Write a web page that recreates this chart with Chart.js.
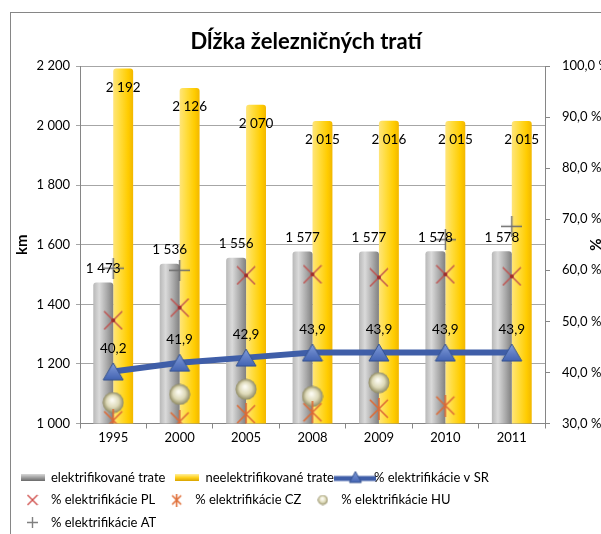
<!DOCTYPE html>
<html>
<head>
<meta charset="utf-8">
<script src="https://cdn.jsdelivr.net/npm/chart.js@4.4.1/dist/chart.umd.min.js"></script>
<style>
  html, body { margin: 0; padding: 0; background: #fff; overflow: hidden; }
  #frame {
    position: absolute; left: 10px; top: 12px; width: 700px; height: 600px;
    border-left: 1px solid #868686; border-top: 1px solid #868686;
  }
  #chart { position: absolute; left: 0; top: 0; }
</style>
</head>
<body>
<div id="frame"><canvas id="chart" width="590" height="526"></canvas></div>
<script>
/* data */
var categories     = ['1995', '2000', '2005', '2008', '2009', '2010', '2011'];
var electrified    = [1473, 1536, 1556, 1577, 1577, 1578, 1578];
var nonElectrified = [2192, 2126, 2070, 2015, 2016, 2015, 2015];
var srPct = [40.2, 41.9, 42.9, 43.9, 43.9, 43.9, 43.9];
var plPct = [50.2, 52.7, 59.0, 59.2, 58.6, 59.2, 58.8];
var czPct = [30.6, 30.4, 31.8, 32.2, 32.9, 33.5, null];
var huPct = [34.1, 35.7, 36.7, 35.3, 38.0, null, null];
var atPct = [60.4, 60.0, null, null, null, 66.0, 68.6];
var kmTicks  = [1000, 1200, 1400, 1600, 1800, 2000, 2200];
var pctTicks = [30, 40, 50, 60, 70, 80, 90, 100];
var seriesNames = ['elektrifikované trate', 'neelektrifikované trate', '% elektrifikácie v SR',
  '% elektrifikácie PL', '% elektrifikácie CZ', '% elektrifikácie HU', '% elektrifikácie AT'];

var FONT = 'Lato, "Open Sans", sans-serif';

function fmtKm(v) { return String(v).replace(/\B(?=(\d{3})+(?!\d))/g, ' '); }
function fmtPct(v) { return v.toFixed(1).replace('.', ','); }

/* ── small canvases used as marker / legend symbols ── */
function icon(w, h, draw) {
  var c = document.createElement('canvas');
  c.width = w; c.height = h;
  draw(c.getContext('2d'), w, h);
  return c;
}
function triangle(w, h) {
  return icon(w, h, function(ctx) {
    var g = ctx.createLinearGradient(0, 0, 0, h);
    g.addColorStop(0, '#86a0dc'); g.addColorStop(1, '#3f60b0');
    ctx.beginPath();
    ctx.moveTo(w / 2, 1); ctx.lineTo(w - 1, h - 1); ctx.lineTo(1, h - 1);
    ctx.closePath();
    ctx.fillStyle = g; ctx.fill();
    ctx.strokeStyle = '#34528f'; ctx.lineWidth = 1; ctx.stroke();
  });
}
function cross(s, color) {
  return icon(s, s, function(ctx) {
    ctx.strokeStyle = color; ctx.lineWidth = 1.4;
    ctx.beginPath();
    ctx.moveTo(1, 1); ctx.lineTo(s - 1, s - 1);
    ctx.moveTo(s - 1, 1); ctx.lineTo(1, s - 1);
    ctx.stroke();
    if (s > 14) {
      ctx.fillStyle = '#9e2b2b';
      ctx.beginPath(); ctx.arc(s / 2, s / 2, 2, 0, Math.PI * 2); ctx.fill();
    }
  });
}
function asterisk(s, color) {
  return icon(s, s, function(ctx) {
    ctx.strokeStyle = color; ctx.lineWidth = 1.6;
    ctx.beginPath();
    ctx.moveTo(2, 2); ctx.lineTo(s - 2, s - 2);
    ctx.moveTo(s - 2, 2); ctx.lineTo(2, s - 2);
    ctx.moveTo(s / 2, 0); ctx.lineTo(s / 2, s);
    ctx.stroke();
  });
}
function sphere(s) {
  return icon(s, s, function(ctx) {
    var r = s / 2 - 0.5;
    var g = ctx.createRadialGradient(s * 0.45, s * 0.38, 1, s / 2, s / 2, r);
    g.addColorStop(0, '#fbfaf0'); g.addColorStop(0.55, '#ddd9b8'); g.addColorStop(1, '#8f8a62');
    ctx.beginPath(); ctx.arc(s / 2, s / 2, r, 0, Math.PI * 2);
    ctx.fillStyle = g; ctx.fill();
  });
}
function plus(s, color) {
  return icon(s, s, function(ctx) {
    ctx.strokeStyle = color; ctx.lineWidth = 1.4;
    ctx.beginPath();
    ctx.moveTo(0, s / 2); ctx.lineTo(s, s / 2);
    ctx.moveTo(s / 2, 0); ctx.lineTo(s / 2, s);
    ctx.stroke();
  });
}
function barIcon(stops) {
  return icon(24, 7, function(ctx, w, h) {
    var g = ctx.createLinearGradient(0, 0, 0, h);
    stops.forEach(function(s) { g.addColorStop(s[0], s[1]); });
    ctx.fillStyle = g; ctx.fillRect(0, 0, w, h);
  });
}
function lineIcon() {
  return icon(42, 14, function(ctx, w, h) {
    ctx.strokeStyle = '#3f5ea8'; ctx.lineWidth = 5;
    ctx.beginPath(); ctx.moveTo(0, h / 2 + 1); ctx.lineTo(w, h / 2 + 1); ctx.stroke();
    ctx.drawImage(triangle(14, 13), w / 2 - 7, 0);
  });
}

var greyStops   = [[0, '#b8b8b8'], [0.3, '#dadada'], [0.7, '#a8a8a8'], [1, '#808080']];
var yellowStops = [[0, '#ffe57a'], [0.35, '#ffdc3c'], [0.75, '#ffcc00'], [1, '#f2b700']];

/* horizontal gradient per bar, computed from the category scale */
function barFill(stops, side) {
  return function(c) {
    var chart = c.chart;
    if (!chart.chartArea) return stops[1][1];
    var xs = chart.scales.x;
    var bw = xs.width / categories.length * 0.6 / 2;
    var cx = xs.getPixelForValue(c.dataIndex);
    var x0 = side < 0 ? cx - bw : cx;
    var g = chart.ctx.createLinearGradient(x0, 0, x0 + bw, 0);
    stops.forEach(function(s) { g.addColorStop(s[0], s[1]); });
    return g;
  };
}

var markers = [null, null, triangle(22, 19), cross(20, '#c0504d'), asterisk(22, '#dd6a35'), sphere(22), plus(21, '#6e6e6e')];
var legendIcons = [barIcon([[0, '#d8d8d8'], [0.5, '#a0a0a0'], [1, '#6a6a6a']]),
  barIcon([[0, '#fff0a0'], [0.5, '#ffd21e'], [1, '#d9a400']]),
  lineIcon(), cross(12, '#d0504d'), asterisk(13, '#e0703a'), sphere(11), plus(11, '#808080')];

/* data labels */
var labelPlugin = {
  id: 'valueLabels',
  afterDatasetsDraw: function(chart) {
    var ctx = chart.ctx;
    ctx.save();
    ctx.font = '13.5px ' + FONT;
    ctx.fillStyle = '#000';
    ctx.textAlign = 'center';
    ctx.textBaseline = 'middle';
    chart.getDatasetMeta(0).data.forEach(function(el, i) {
      ctx.fillText(fmtKm(electrified[i]), el.x, el.y - 14);
    });
    chart.getDatasetMeta(1).data.forEach(function(el, i) {
      ctx.fillText(fmtKm(nonElectrified[i]), el.x, el.y + 19);
    });
    chart.getDatasetMeta(2).data.forEach(function(el, i) {
      ctx.fillText(fmtPct(srPct[i]), el.x, el.y - 23);
    });
    ctx.restore();
  }
};

function pointSet(label, values, i) {
  return {
    type: 'line', label: label, data: values, yAxisID: 'y1', order: 1,
    showLine: false, pointStyle: markers[i], pointRadius: 10, spanGaps: false
  };
}

new Chart(document.getElementById('chart'), {
  data: {
    labels: categories,
    datasets: [
      { type: 'bar', label: seriesNames[0], data: electrified, yAxisID: 'y', order: 5,
        backgroundColor: barFill(greyStops, -1), borderWidth: 0,
        borderRadius: { topLeft: 3, topRight: 3 }, borderSkipped: 'bottom',
        categoryPercentage: 0.6, barPercentage: 1.0 },
      { type: 'bar', label: seriesNames[1], data: nonElectrified, yAxisID: 'y', order: 5,
        backgroundColor: barFill(yellowStops, 1), borderWidth: 0,
        borderRadius: { topLeft: 3, topRight: 3 }, borderSkipped: 'bottom',
        categoryPercentage: 0.6, barPercentage: 1.0 },
      { type: 'line', label: seriesNames[2], data: srPct, yAxisID: 'y1', order: 0,
        borderColor: '#3f5ea8', borderWidth: 6, tension: 0,
        pointStyle: markers[2], pointRadius: 11 },
      pointSet(seriesNames[3], plPct, 3),
      pointSet(seriesNames[4], czPct, 4),
      pointSet(seriesNames[5], huPct, 5),
      pointSet(seriesNames[6], atPct, 6)
    ]
  },
  options: {
    responsive: false,
    animation: false,
    devicePixelRatio: 1,
    layout: { padding: 0 },
    plugins: {
      title: {
        display: true, text: 'Dĺžka železničných tratí', color: '#000',
        font: { family: FONT, size: 22, weight: 'bold' },
        padding: { top: 16, bottom: 10.6 }
      },
      legend: {
        position: 'bottom', align: 'start',
        labels: {
          usePointStyle: true, pointStyleWidth: 24, padding: 9.5, color: '#000',
          font: { family: FONT, size: 13 },
          generateLabels: function(chart) {
            return chart.data.datasets.map(function(ds, i) {
              return { text: ds.label, pointStyle: legendIcons[i], datasetIndex: i,
                       hidden: false, lineWidth: 0, fillStyle: '#000', strokeStyle: '#000' };
            });
          }
        }
      },
      tooltip: { enabled: false }
    },
    scales: {
      x: {
        type: 'category', offset: true,
        grid: { offset: true, drawOnChartArea: false, tickLength: 5, color: '#868686' },
        border: { color: '#868686' },
        ticks: { color: '#000', font: { family: FONT, size: 13 }, padding: 2, maxRotation: 0 },
        afterFit: function(s) { s.height = 38; }
      },
      y: {
        position: 'left', min: 1000, max: 2200,
        afterBuildTicks: function(s) { s.ticks = kmTicks.map(function(v) { return { value: v }; }); },
        ticks: { color: '#000', font: { family: FONT, size: 13 }, padding: 6,
                 callback: function(v) { return fmtKm(v); } },
        grid: { color: '#a6a6a6', tickLength: 4 },
        border: { color: '#868686' },
        title: { display: true, text: 'km', color: '#000',
                 font: { family: FONT, size: 15, weight: 'bold' }, padding: { top: 2, bottom: 0 } },
        afterFit: function(s) { s.width = 69; }
      },
      y1: {
        position: 'right', min: 30, max: 100,
        afterBuildTicks: function(s) { s.ticks = pctTicks.map(function(v) { return { value: v }; }); },
        ticks: { color: '#000', font: { family: FONT, size: 13 }, padding: 12,
                 callback: function(v) { return fmtPct(v) + ' %'; } },
        grid: { drawOnChartArea: false, tickLength: 5, color: '#868686' },
        border: { color: '#868686' },
        title: { display: true, text: '%', color: '#000',
                 font: { family: FONT, size: 15, weight: 'bold' }, padding: { top: -3, bottom: 0 } },
        afterFit: function(s) { s.width = 56; }
      }
    }
  },
  plugins: [labelPlugin]
});
</script>
</body>
</html>
